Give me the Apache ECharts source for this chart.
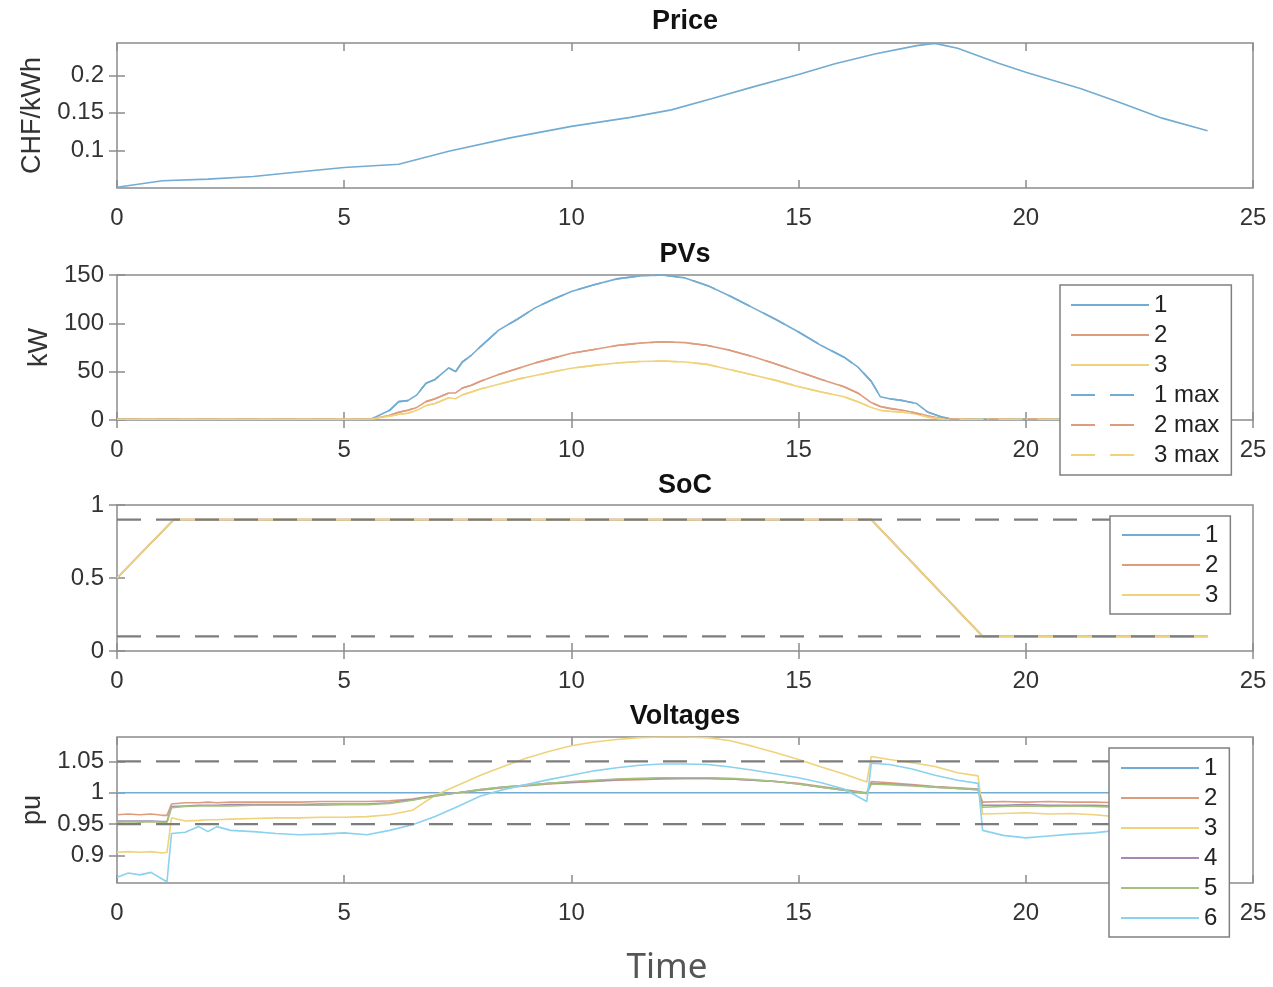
<!DOCTYPE html>
<html>
<head>
<meta charset="utf-8">
<script src="https://cdn.jsdelivr.net/npm/echarts@6/dist/echarts.min.js"></script>
<style>
html,body{margin:0;padding:0;background:#fff;}
#chart{width:1273px;height:987px;}
</style>
</head>
<body>
<div id="chart"></div>
<script>
// ---------------- DATA ----------------
const timeTicks = [0, 5, 10, 15, 20, 25];

// Price (CHF/kWh)
const priceT = [0, 1, 2, 3, 3.7, 5, 6.2, 7.3, 8.65, 10, 11.3, 12.2, 13.1, 14, 15, 15.8, 16.7, 17.6, 18, 18.5, 19.4, 20, 21.2, 22.1, 23, 24];
const price = [0.051, 0.0596, 0.0618, 0.0654, 0.0697, 0.0772, 0.0816, 0.099, 0.1167, 0.132, 0.144, 0.154, 0.169, 0.1846, 0.201, 0.2154, 0.2286, 0.2395, 0.2425, 0.236, 0.216, 0.204, 0.1825, 0.163, 0.143, 0.1263];
const priceTicks = [0.1, 0.15, 0.2];

// PVs (kW)
const pvT = [0, 5, 5.6, 6.0, 6.2, 6.4, 6.6, 6.8, 7.0, 7.3, 7.45, 7.6, 7.8, 8.0, 8.4, 8.8, 9.2, 9.6, 10, 10.5, 11, 11.5, 12, 12.5, 13, 13.5, 14, 14.5, 15, 15.5, 16, 16.3, 16.6, 16.8, 17.0, 17.3, 17.6, 17.85, 18.15, 18.4, 24];
const pv1 = [0.8, 0.8, 1, 10, 19, 20, 26, 38, 42, 54, 50, 60, 67, 76, 93, 104, 116, 125, 133, 140, 146, 149, 150, 147, 139, 128, 116, 104, 91, 77, 65, 55, 40, 24, 22, 20, 17, 8, 3, 0.8, 0.8];
const pv2 = [0.8, 0.8, 1, 5, 8, 10, 13, 19, 22, 28, 28, 33, 36, 40, 47, 53, 59, 64, 69, 73, 77, 79.5, 81, 80, 77, 72, 65.5, 58, 50, 42, 34.5, 28, 18, 14, 12, 10, 7, 4, 1.5, 0.8, 0.8];
const pv3 = [0.8, 0.8, 1, 4, 6, 7, 10, 15, 17, 23, 22, 26, 29, 32, 37, 42, 46, 50, 53.5, 56.5, 59, 60.5, 61, 60, 57.5, 52, 46.5, 41, 34.5, 29, 24, 19, 13, 10, 9, 8, 6, 3, 1, 0.8, 0.8];
const pv1Max = pv1; // available power equals produced power (no curtailment)
const pv2Max = pv2;
const pv3Max = pv3;
const pvTicks = [0, 50, 100, 150];

// SoC
const socT = [0, 1.25, 16.6, 19.05, 24];
const soc1 = [0.5, 0.9, 0.9, 0.1, 0.1];
const soc2 = [0.5, 0.9, 0.9, 0.1, 0.1];
const soc3 = [0.5, 0.9, 0.9, 0.1, 0.1];
const socLimits = [0.1, 0.9];
const socTicks = [0, 0.5, 1];

// Voltages (pu)
const vT = [0, 0.25, 0.5, 0.75, 1.0, 1.1, 1.2, 1.5, 1.8, 2.0, 2.2, 2.5, 3, 3.5, 4, 4.5, 5, 5.5, 6, 6.5, 7, 7.5, 8, 8.5, 9, 9.5, 10, 10.5, 11, 11.5, 12, 12.5, 13, 13.5, 14, 14.5, 15, 15.5, 16, 16.5, 16.6, 17, 17.5, 18, 18.5, 18.95, 19.05, 19.5, 20, 20.5, 21, 21.5, 22, 22.5, 23, 23.5, 24];
const v1T = [0, 24];
const v1 = [1, 1];
const v2 = [0.965, 0.966, 0.965, 0.966, 0.964, 0.964, 0.982, 0.984, 0.984, 0.985, 0.984, 0.985, 0.985, 0.985, 0.985, 0.986, 0.986, 0.986, 0.987, 0.99, 0.996, 1.0, 1.004, 1.008, 1.011, 1.014, 1.016, 1.018, 1.02, 1.021, 1.022, 1.023, 1.023, 1.022, 1.02, 1.018, 1.015, 1.01, 1.005, 1.0, 1.018, 1.016, 1.013, 1.01, 1.008, 1.006, 0.985, 0.986, 0.985, 0.986, 0.985, 0.985, 0.984, 0.985, 0.984, 0.985, 0.984];
const v3 = [0.905, 0.906, 0.905, 0.906, 0.904, 0.905, 0.96, 0.955, 0.956, 0.957, 0.957, 0.958, 0.959, 0.96, 0.96, 0.961, 0.961, 0.962, 0.965, 0.972, 0.996, 1.012, 1.028, 1.042, 1.055, 1.066, 1.075, 1.081, 1.085, 1.088, 1.089, 1.089, 1.088, 1.083, 1.074, 1.064, 1.053, 1.041, 1.03, 1.017, 1.058, 1.053, 1.048, 1.042, 1.032, 1.027, 0.966, 0.967, 0.968, 0.966, 0.967, 0.965, 0.962, 0.961, 0.962, 0.961, 0.962];
const v4 = [0.955, 0.955, 0.955, 0.955, 0.954, 0.954, 0.978, 0.979, 0.98, 0.98, 0.98, 0.981, 0.981, 0.981, 0.981, 0.982, 0.982, 0.982, 0.984, 0.989, 0.995, 1.0, 1.005, 1.009, 1.012, 1.015, 1.017, 1.019, 1.021, 1.022, 1.023, 1.023, 1.023, 1.022, 1.02, 1.018, 1.014, 1.009, 1.004, 0.999, 1.015, 1.014, 1.012, 1.009, 1.007, 1.005, 0.98, 0.98, 0.981, 0.98, 0.98, 0.98, 0.979, 0.98, 0.979, 0.98, 0.979];
const v5 = [0.953, 0.954, 0.953, 0.954, 0.953, 0.953, 0.976, 0.978, 0.979, 0.979, 0.979, 0.979, 0.98, 0.98, 0.98, 0.98, 0.981, 0.981, 0.983, 0.988, 0.995, 1.0, 1.005, 1.009, 1.012, 1.015, 1.018, 1.02, 1.022, 1.023, 1.024, 1.024, 1.024, 1.023, 1.021, 1.018, 1.014, 1.009, 1.004, 0.999, 1.014, 1.013, 1.011, 1.009, 1.007, 1.005, 0.977, 0.978, 0.979, 0.978, 0.979, 0.978, 0.977, 0.978, 0.977, 0.978, 0.977];
const v6 = [0.865, 0.872, 0.869, 0.873, 0.862, 0.858, 0.935, 0.937, 0.946, 0.938, 0.946, 0.94, 0.938, 0.935, 0.933, 0.934, 0.936, 0.933, 0.94, 0.949, 0.962, 0.978, 0.995, 1.005, 1.013, 1.021, 1.028, 1.035, 1.04, 1.044, 1.046, 1.046, 1.045, 1.041, 1.036, 1.03, 1.024, 1.016, 1.006, 0.986, 1.047, 1.045, 1.038, 1.028, 1.02, 1.015, 0.94, 0.932, 0.928, 0.931, 0.934, 0.936, 0.94, 0.938, 0.935, 0.937, 0.936];
const voltLimits = [0.95, 1.05];
const voltTicks = [0.9, 0.95, 1, 1.05];
const limitT = [0, 24];

// ---------------- STYLE ----------------
const FONT = 'Liberation Sans, Arial, Helvetica, sans-serif';
const C = ['#72acd2', '#de9c7f', '#f0d27a', '#a488b6', '#a3c27c', '#8ad2ee'];
const AX = '#8c8c8c';
const TXT = '#333333';
const zip = (t, v) => t.map((x, i) => [x, v[i]]);

const grids = [], xAxes = [], yAxes = [], series = [];
const panels = [
  {top: 43,  height: 145, min: 0.05,  max: 0.243, ticks: priceTicks, name: 'CHF/kWh', gap: 71},
  {top: 275, height: 145, min: 0,     max: 150,   ticks: pvTicks,    name: 'kW',      gap: 64},
  {top: 505, height: 146, min: 0,     max: 1,     ticks: socTicks,   name: '',        gap: 60},
  {top: 737, height: 146, min: 0.856, max: 1.089, ticks: voltTicks,  name: 'pu',      gap: 68}
];
panels.forEach((p, i) => {
  grids.push({left: 117, top: p.top, width: 1136, height: p.height, show: true,
    borderColor: AX, borderWidth: 1.5, backgroundColor: 'transparent', containLabel: false});
  const xBase = {gridIndex: i, type: 'value', min: 0, max: 25, interval: 5,
    axisLine: {show: false}, splitLine: {show: false},
    axisTick: {inside: true, length: 8, customValues: timeTicks, lineStyle: {color: AX, width: 1.5}}};
  xAxes.push(Object.assign({}, xBase, {position: 'bottom',
    axisLabel: {customValues: timeTicks, margin: 18, fontSize: 24, color: TXT, fontFamily: FONT}}));
  xAxes.push(Object.assign({}, xBase, {position: 'top', axisLabel: {show: false}}));
  const yBase = {gridIndex: i, type: 'value', min: p.min, max: p.max,
    axisLine: {show: false}, splitLine: {show: false},
    axisTick: {inside: true, length: 8, customValues: p.ticks, lineStyle: {color: AX, width: 1.5}}};
  yAxes.push(Object.assign({}, yBase, {position: 'left',
    name: p.name, nameLocation: 'middle', nameGap: p.gap,
    nameTextStyle: {fontSize: 27, color: TXT, fontFamily: FONT},
    axisLabel: {customValues: p.ticks, margin: 13, fontSize: 24, color: TXT, fontFamily: FONT,
      formatter: v => String(+v.toFixed(3))}}));
  yAxes.push(Object.assign({}, yBase, {position: 'right', axisLabel: {show: false}}));
});

function line(name, panel, t, v, color, type, width) {
  series.push({name: name, type: 'line', xAxisIndex: panel * 2, yAxisIndex: panel * 2,
    data: zip(t, v), symbol: 'none', showSymbol: false, silent: true,
    lineStyle: {color: color, width: width || 1.6, type: type || 'solid'},
    itemStyle: {color: color}});
}
const DASH = [24, 15];
// Price
line('price', 0, priceT, price, C[0]);
// PVs
line('pv:1', 1, pvT, pv1, C[0]);
line('pv:2', 1, pvT, pv2, C[1]);
line('pv:3', 1, pvT, pv3, C[2]);
line('pv:1 max', 1, pvT, pv1Max, C[0], DASH);
line('pv:2 max', 1, pvT, pv2Max, C[1], DASH);
line('pv:3 max', 1, pvT, pv3Max, C[2], DASH);
// SoC
line('soc:1', 2, socT, soc1, C[0]);
line('soc:2', 2, socT, soc2, C[1]);
line('soc:3', 2, socT, soc3, C[2]);
socLimits.forEach((l, k) => line('socLim' + k, 2, limitT, limitT.map(() => l), '#7d7d7d', DASH, 2.2));
// Voltages
line('v:1', 3, v1T, v1, C[0]);
line('v:2', 3, vT, v2, C[1]);
line('v:3', 3, vT, v3, C[2]);
line('v:4', 3, vT, v4, C[3]);
line('v:5', 3, vT, v5, C[4]);
line('v:6', 3, vT, v6, C[5]);
voltLimits.forEach((l, k) => line('vLim' + k, 3, limitT, limitT.map(() => l), '#7d7d7d', DASH, 2.2));

const legendBase = {orient: 'vertical', itemWidth: 78, itemHeight: 14, itemGap: 6,
  backgroundColor: '#ffffff', borderColor: '#808080', borderWidth: 1.5, borderRadius: 0,
  selectedMode: false, formatter: n => n.split(':')[1],
  itemStyle: {opacity: 0, color: 'transparent', borderWidth: 0},
  textStyle: {fontSize: 24, color: '#222', fontFamily: FONT, lineHeight: 24}};
const legends = [
  Object.assign({}, legendBase, {left: 1060, top: 285, padding: [8, 12, 8, 10],
    data: ['pv:1', 'pv:2', 'pv:3', 'pv:1 max', 'pv:2 max', 'pv:3 max']}),
  Object.assign({}, legendBase, {left: 1110, top: 516, padding: [7, 12, 7, 11],
    data: ['soc:1', 'soc:2', 'soc:3']}),
  Object.assign({}, legendBase, {left: 1109, top: 748, padding: [8, 12, 7, 11],
    data: ['v:1', 'v:2', 'v:3', 'v:4', 'v:5', 'v:6']})
];

const titles = [['Price', 22], ['PVs', 255], ['SoC', 486], ['Voltages', 717]];
const graphic = titles.map(([t, y]) => ({type: 'text', x: 685, y: y, silent: true,
  style: {text: t, font: 'bold 27px ' + FONT, fill: '#111', textAlign: 'center', textVerticalAlign: 'middle'}}));
graphic.push({type: 'text', x: 667, y: 968, silent: true,
  style: {text: 'Time', font: '35px "Noto Sans", sans-serif', fill: '#555', textAlign: 'center', textVerticalAlign: 'middle'}});

const chart = echarts.init(document.getElementById('chart'), null, {renderer: 'canvas'});
chart.setOption({
  animation: false,
  backgroundColor: '#ffffff',
  grid: grids, xAxis: xAxes, yAxis: yAxes, series: series,
  legend: legends, graphic: graphic
});
</script>
</body>
</html>
